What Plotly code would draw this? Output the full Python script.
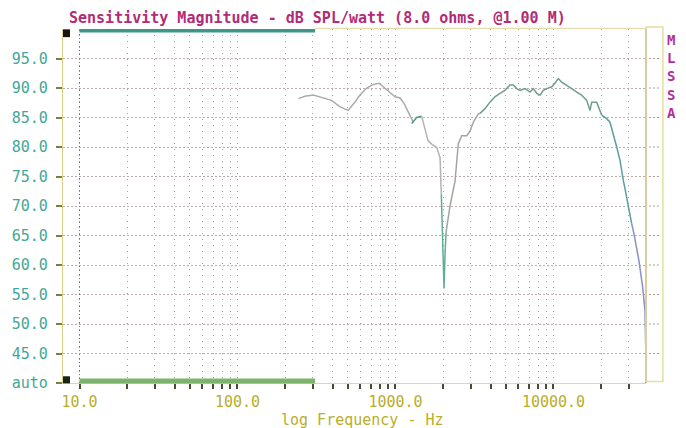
import math
import plotly.graph_objects as go

# Measured sensitivity response (Hz, dB SPL/watt)
freq_hz = [243, 267, 302, 343, 394, 446, 502, 546, 596, 657, 724, 787, 859, 923,
           993, 1068, 1132, 1206, 1296,
           1266, 1363, 1465,
           1465, 1530, 1606, 1694, 1824, 1914, 1950,
           1950, 1990, 2028, 2060, 2089,
           2089, 2213, 2381, 2497, 2624, 2824, 2963, 3108, 3343, 3428,
           3428, 3685, 3962, 4261, 4582, 4928, 5300, 5568, 5850, 6144, 6607, 7102,
           7455, 7834, 8222, 8615, 9055, 9750, 10216, 10723, 11265, 12130, 13040,
           14025, 15070, 16220, 17020, 17450, 18770, 20180,
           20180, 21710, 22780, 23900, 25120, 26370, 27040, 27680, 28370, 29060,
           29750, 30480, 31250,
           31250, 32300, 34750, 36700, 37940, 38340]
spl_db = [88.2, 88.6, 88.8, 88.4, 87.9, 86.8, 86.2, 87.4, 88.8, 90.0, 90.6, 90.8,
          89.9, 89.1, 88.5, 88.3, 87.4, 85.9, 84.2,
          84.0, 85.0, 85.2,
          85.2, 83.0, 81.1, 80.5, 79.9, 78.2, 72.0,
          72.0, 64.0, 56.0, 62.0, 65.5,
          65.5, 70.0, 74.2, 80.5, 81.9, 81.9, 82.7, 84.2, 85.6, 85.7,
          85.7, 86.5, 87.6, 88.5, 89.1, 89.6, 90.5, 90.5, 89.9, 89.6, 89.9, 89.3,
          89.9, 89.1, 88.8, 89.6, 89.9, 90.2, 90.8, 91.6, 91.0, 90.5, 89.9,
          89.3, 88.8, 87.9, 86.2, 87.6, 87.6, 85.4,
          85.4, 84.8, 84.2, 82.3, 80.0, 77.7, 75.7, 74.3, 72.9, 71.5,
          69.8, 68.1, 67.0,
          67.0, 65.3, 60.7, 56.2, 52.2, 46.0]

# Trace pieces (start index, end index exclusive, colour)
segments = [(0, 19, "#a9ada9"), (19, 22, "#4f9a84"), (22, 29, "#b2b4b2"),
            (29, 34, "#5fae96"), (34, 44, "#a2a6a2"), (44, 74, "#6e9e8e"),
            (74, 87, "#5e9ea0"), (87, 93, "#8a90c0")]

x_ticks = [10, 20, 30, 40, 50, 60, 70, 80, 90,
           100, 200, 300, 400, 500, 600, 700, 800, 900,
           1000, 2000, 3000, 4000, 5000, 6000, 7000, 8000, 9000,
           10000, 20000, 30000]
x_labels = {10: "10.0", 100: "100.0", 1000: "1000.0", 10000: "10000.0"}
y_ticks = [40, 45, 50, 55, 60, 65, 70, 75, 80, 85, 90, 95]
y_labels = ["auto", "45.0", "50.0", "55.0", "60.0", "65.0", "70.0", "75.0",
            "80.0", "85.0", "90.0", "95.0"]

title_text = "Sensitivity Magnitude - dB SPL/watt (8.0 ohms, @1.00 M)"
x_title = "log Frequency - Hz"
side_letters = ["M", "L", "S", "S", "A"]

X_RANGE = [0.8956, 4.5855]
Y_RANGE = [40, 100]
CURSOR_LO, CURSOR_HI = 10, 310

MONO = "DejaVu Sans Mono"


def xpaper(f):
    return (math.log10(f) - X_RANGE[0]) / (X_RANGE[1] - X_RANGE[0])


def ypaper(v):
    return (v - Y_RANGE[0]) / (Y_RANGE[1] - Y_RANGE[0])


fig = go.Figure()
for a, b, col in segments:
    fig.add_trace(go.Scatter(x=freq_hz[a:b], y=spl_db[a:b], mode="lines",
                             line=dict(color=col, width=1.5),
                             hoverinfo="skip", showlegend=False))

shapes = []
# darker 10 Hz grid line
shapes.append(dict(type="line", xref="paper", yref="paper",
                   x0=xpaper(10), x1=xpaper(10), y0=0, y1=1,
                   line=dict(color="#707070", width=1, dash="1px,3px")))
# cursor bars along top and bottom
shapes.append(dict(type="line", xref="paper", yref="paper",
                   x0=xpaper(CURSOR_HI), x1=1, y0=1.002, y1=1.002,
                   line=dict(color="#e6dcae", width=1.2)))
shapes.append(dict(type="line", xref="paper", yref="paper",
                   x0=xpaper(CURSOR_LO), x1=xpaper(CURSOR_HI), y0=0.995, y1=0.995,
                   line=dict(color="#3f978a", width=3.5)))
shapes.append(dict(type="line", xref="paper", yref="paper",
                   x0=xpaper(CURSOR_LO), x1=xpaper(CURSOR_HI), y0=0.006, y1=0.006,
                   line=dict(color="#7cb46c", width=5)))
# corner markers
shapes.append(dict(type="rect", xref="paper", yref="paper",
                   x0=0, x1=0.012, y0=0.977, y1=0.999,
                   fillcolor="#1a1410", line=dict(width=0)))
shapes.append(dict(type="rect", xref="paper", yref="paper",
                   x0=0, x1=0.012, y0=-0.001, y1=0.019,
                   fillcolor="#1a2410", line=dict(width=0)))
# right frame and side box
shapes.append(dict(type="line", xref="paper", yref="paper",
                   x0=1, x1=1, y0=0, y1=1,
                   line=dict(color="#ad9ea4", width=2)))
shapes.append(dict(type="rect", xref="paper", yref="paper",
                   x0=1, x1=1.029, y0=0.004, y1=1.006,
                   line=dict(color="#e6dea0", width=1.5)))
for v in y_ticks[1:]:
    shapes.append(dict(type="line", xref="paper", yref="paper",
                       x0=1.005, x1=1.024, y0=ypaper(v), y1=ypaper(v),
                       line=dict(color="#a89c8c", width=1, dash="2px,2px")))

annotations = [
    dict(text="<b>" + title_text + "</b>", xref="paper", yref="paper",
         x=(67 - 63) / 583, y=1.031, xanchor="left", yanchor="middle",
         showarrow=False, font=dict(family=MONO, size=15, color="#b02c78")),
    dict(text=x_title, xref="paper", yref="paper",
         x=0.513, y=-0.104, xanchor="center", yanchor="middle",
         showarrow=False, font=dict(family=MONO, size=15, color="#b8ae2a")),
    dict(text="<b>" + "<br>".join(side_letters) + "</b>", xref="paper", yref="paper",
         x=(672 - 63) / 583, y=(383 - 30) / 354, xanchor="center", yanchor="top",
         align="center", showarrow=False,
         font=dict(family=MONO, size=14, color="#b0309a")),
]

fig.update_layout(
    width=686, height=428,
    margin=dict(l=63, r=40, t=29, b=45, pad=0),
    paper_bgcolor="white", plot_bgcolor="white",
    shapes=shapes, annotations=annotations,
    xaxis=dict(type="log", range=X_RANGE, tickvals=x_ticks,
               ticktext=[x_labels.get(t, "") for t in x_ticks],
               showgrid=True, gridcolor="#98a0a8", gridwidth=1, griddash="1px,5px",
               showline=True, linecolor="#e2d898", linewidth=1.2,
               ticks="outside", ticklen=5, tickwidth=1.5, tickcolor="#4a4a38",
               tickfont=dict(family=MONO, size=15, color="#b8ae2a"),
               zeroline=False, fixedrange=True),
    yaxis=dict(range=Y_RANGE, tickvals=y_ticks, ticktext=y_labels,
               showgrid=True, gridcolor="#bfaaaa", gridwidth=1, griddash="2px,2px",
               showline=True, linecolor="#d8d088", linewidth=1.2,
               ticks="outside", ticklen=6, tickwidth=2, tickcolor="#7a8040",
               ticklabelstandoff=5,
               tickfont=dict(family=MONO, size=15, color="#3fa898"),
               zeroline=False, fixedrange=True),
)

fig.write_html("out.html")
